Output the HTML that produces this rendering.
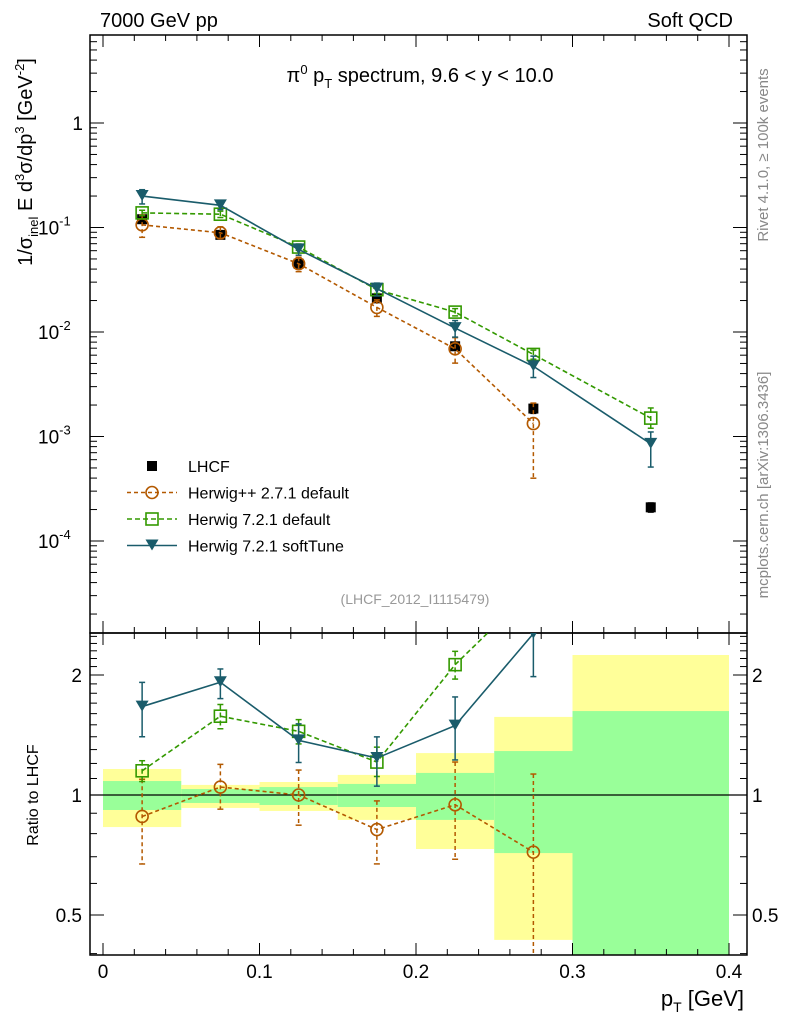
<!DOCTYPE html>
<html><head><meta charset="utf-8"><style>
body{margin:0;background:#fff}
svg{font-family:"Liberation Sans",sans-serif}
</style></head><body>
<svg id="c" width="786" height="1024" viewBox="0 0 786 1024" xmlns="http://www.w3.org/2000/svg">
<rect width="786" height="1024" fill="#fff"/>
<g id="bands"></g>
<g id="axes"></g>
<g id="marks"></g>
<text x="100" y="27" font-size="20">7000 GeV pp</text>
<text x="733" y="27" font-size="20" text-anchor="end">Soft QCD</text>
<text x="420" y="82" font-size="20" text-anchor="middle">π<tspan dy="-8" font-size="13">0</tspan><tspan dy="8"> p</tspan><tspan dy="6" font-size="13">T</tspan><tspan dy="-6"> spectrum, 9.6 &lt; y &lt; 10.0</tspan></text>
<text transform="translate(32,162) rotate(-90)" font-size="20" text-anchor="middle">1/σ<tspan dy="6" font-size="13">inel</tspan><tspan dy="-6"> E d</tspan><tspan dy="-8" font-size="13">3</tspan><tspan dy="8">σ/dp</tspan><tspan dy="-8" font-size="13">3</tspan><tspan dy="8"> [GeV</tspan><tspan dy="-8" font-size="13">-2</tspan><tspan dy="8">]</tspan></text>
<text transform="translate(768,155) rotate(-90)" font-size="15" fill="#888" text-anchor="middle">Rivet 4.1.0, ≥ 100k events</text>
<text transform="translate(768,485) rotate(-90)" font-size="15" fill="#888" text-anchor="middle">mcplots.cern.ch [arXiv:1306.3436]</text>
<text x="415" y="604" font-size="14" fill="#999" text-anchor="middle">(LHCF_2012_I1115479)</text>
<text transform="translate(38,795) rotate(-90)" font-size="16" text-anchor="middle">Ratio to LHCF</text>
<text x="744" y="1006" font-size="22" text-anchor="end">p<tspan dy="6" font-size="14">T</tspan><tspan dy="-6"> [GeV]</tspan></text>
<g id="legend"></g>
</svg>
<script>
const xEdges=[0,0.05,0.1,0.15,0.2,0.25,0.3,0.4];
const xCenters=[0.025,0.075,0.125,0.175,0.225,0.275,0.35];
const lhcf=[0.12,0.085,0.045,0.021,0.0073,0.00185,0.00021];
const lhcfRelErr=[0.06,0.04,0.05,0.06,0.08,0.1,0.1];
const herwigpp=[0.106,0.089,0.045,0.0172,0.0069,0.00133];
const herwigppUp=[1.24,1.14,1.155,1.18,1.28,1.57];
const herwigppDn=[0.76,0.88,0.84,0.82,0.73,0.3];
const h721=[0.138,0.134,0.065,0.0254,0.0155,0.0061,0.0015];
const h721Up=[1.06,1.07,1.07,1.09,1.08,1.1,1.25];
const h721Dn=[0.94,0.93,0.93,0.92,0.92,0.9,0.8];
const soft=[0.2,0.163,0.0617,0.026,0.0109,0.0047,0.00085];
const softUp=[1.15,1.08,1.10,1.13,1.18,1.25,1.3];
const softDn=[0.84,0.91,0.88,0.85,0.82,0.78,0.6];
const bandYellowHi=[1.162,1.06,1.078,1.123,1.274,1.57,2.245];
const bandYellowLo=[0.831,0.928,0.912,0.866,0.732,0.433,0.3];
const bandGreenHi=[1.084,1.035,1.047,1.066,1.136,1.289,1.624];
const bandGreenLo=[0.917,0.955,0.944,0.933,0.866,0.715,0.3];
const mainTicks=[1,0.1,0.01,0.001,0.0001];
const mainTickLabels=[["1",""],["10","-1"],["10","-2"],["10","-3"],["10","-4"]];
const xTicks=[0,0.1,0.2,0.3,0.4];
const xTickLabels=["0","0.1","0.2","0.3","0.4"];
const ratioTicks=[0.5,1,2];
const ratioTickLabels=["0.5","1","2"];

const NS="http://www.w3.org/2000/svg";
const L=90,R=747,T=35,M=633,B=955;
const X=v=>103+v*1565;
const Y=v=>123-104.5*Math.log10(v);
const RY=v=>795-398.6*Math.log10(v);
function mk(p,tag,at){const e=document.createElementNS(NS,tag);for(const k in at)e.setAttribute(k,at[k]);p.appendChild(e);return e;}
const axes=document.getElementById('axes'),marks=document.getElementById('marks'),bands=document.getElementById('bands'),leg=document.getElementById('legend');
const clipR=mk(document.getElementById('c'),'clipPath',{id:'cr'});mk(clipR,'rect',{x:L,y:M,width:R-L,height:B-M});
const clipM=mk(document.getElementById('c'),'clipPath',{id:'cm'});mk(clipM,'rect',{x:L,y:T,width:R-L,height:M-T});
bands.setAttribute('clip-path','url(#cr)');
for(let i=0;i<7;i++){
 let r=mk(bands,'rect',{x:X(xEdges[i]),width:X(xEdges[i+1])-X(xEdges[i]),y:RY(bandYellowHi[i]),height:RY(bandYellowLo[i])-RY(bandYellowHi[i]),fill:'#ffff99'});
 
 
 let g=mk(bands,'rect',{x:X(xEdges[i]),width:X(xEdges[i+1])-X(xEdges[i]),y:RY(bandGreenHi[i]),height:RY(bandGreenLo[i])-RY(bandGreenHi[i]),fill:'#99ff99'});
 
 
}
mk(axes,'rect',{x:L,y:T,width:R-L,height:M-T,fill:'none',stroke:'#000','stroke-width':1.5});
mk(axes,'rect',{x:L,y:M,width:R-L,height:B-M,fill:'none',stroke:'#000','stroke-width':1.5});
mk(axes,'line',{x1:L,x2:R,y1:RY(1),y2:RY(1),stroke:'#000','stroke-width':1.2});
for(let v=0;v<=0.4001;v+=0.02){const maj=Math.abs(v*10-Math.round(v*10))<1e-6;const len=maj?12:6;
 for(const [y0,d] of [[T,1],[M,-1],[M,1],[B,-1]]) mk(axes,'line',{x1:X(v),x2:X(v),y1:y0,y2:y0+d*len,stroke:'#000','stroke-width':1});}
xTicks.forEach((v,i)=>{const t=mk(axes,'text',{x:X(v),y:978,'font-size':19,'text-anchor':'middle'});t.textContent=xTickLabels[i];
 
 });
for(let e=-5;e<=1;e++)for(let m=1;m<=9;m++){const v=m*Math.pow(10,e);const y=Y(v);if(y<T||y>M)continue;const len=m==1?14:7;
 mk(axes,'line',{x1:L,x2:L+len,y1:y,y2:y,stroke:'#000'});mk(axes,'line',{x1:R,x2:R-len,y1:y,y2:y,stroke:'#000'});}
mainTicks.forEach((v,i)=>{const t=mk(axes,'text',{x:i==0?83:38,y:Y(v)+7,'font-size':19});
 if(i==0)t.setAttribute('text-anchor','end');
 t.textContent=mainTickLabels[i][0];
 if(mainTickLabels[i][1]){const s=mk(t,'tspan',{dy:-9,'font-size':13});s.textContent=mainTickLabels[i][1];}
 
 });
for(let v=0.4;v<2.6;v=Math.round((v+0.1)*10)/10){const y=RY(v);if(y<M||y>B)continue;const maj=(v==0.5||v==1||v==2);const len=maj?14:7;
 mk(axes,'line',{x1:L,x2:L+len,y1:y,y2:y,stroke:'#000'});mk(axes,'line',{x1:R,x2:R-len,y1:y,y2:y,stroke:'#000'});}
ratioTicks.forEach((v,i)=>{for(const [x,a] of [[82,'end'],[752,'start']]){const t=mk(axes,'text',{x:x,y:RY(v)+7,'font-size':19,'text-anchor':a});t.textContent=ratioTickLabels[i];
 
 }});
function marker(g,type,x,y,col){
 if(type=='circ')mk(g,'circle',{cx:x,cy:y,r:6,fill:'none',stroke:col,'stroke-width':1.6});
 else if(type=='sq')mk(g,'rect',{x:x-6,y:y-6,width:12,height:12,fill:'none',stroke:col,'stroke-width':1.6});
 else if(type=='tri')mk(g,'path',{d:`M${x-6.5},${y-6}L${x+6.5},${y-6}L${x},${y+5}Z`,fill:col});
 else mk(g,'rect',{x:x-5,y:y-5,width:10,height:10,fill:col});
}
function series(name,vals,up,dn,col,dash,type,ratio){
 const g=mk(marks,'g',{'clip-path':ratio?'url(#cr)':'url(#cm)'});
 
 
 const yf=ratio?RY:Y;
 const v=vals.map((a,i)=>ratio?a/lhcf[i]:a);
 if(dash!==null){let d='';v.forEach((a,i)=>{d+=(i?'L':'M')+X(xCenters[i])+','+yf(a);});
  mk(g,'path',{d:d,fill:'none',stroke:col,'stroke-width':1.6,'stroke-dasharray':dash});}
 v.forEach((a,i)=>{const x=X(xCenters[i]);
  if(ratio&&yf(a)<M)return;
  const y1=yf(a*up[i]),y2=yf(a*dn[i]);
  mk(g,'line',{x1:x,x2:x,y1:y1,y2:y2,stroke:col,'stroke-width':1.5,'stroke-dasharray':dash||'none'});
  mk(g,'line',{x1:x-3,x2:x+3,y1:y1,y2:y1,stroke:col,'stroke-width':1.5});
  mk(g,'line',{x1:x-3,x2:x+3,y1:y2,y2:y2,stroke:col,'stroke-width':1.5});
  marker(g,type,x,yf(a),col);});
}
const lUp=lhcfRelErr.map(e=>1+e),lDn=lhcfRelErr.map(e=>1-e);
series('lhcf',lhcf,lUp,lDn,'#000',null,'full',false);
series('herwigpp-2-7-1',herwigpp,herwigppUp,herwigppDn,'#b35900','4,3','circ',false);
series('herwig-7-2-1-default',h721,h721Up,h721Dn,'#339900','5,3','sq',false);
series('herwig-7-2-1-softtune',soft,softUp,softDn,'#1a5c6b','','tri',false);
series('herwigpp-2-7-1',herwigpp,herwigppUp,herwigppDn,'#b35900','4,3','circ',true);
series('herwig-7-2-1-default',h721,h721Up,h721Dn,'#339900','5,3','sq',true);
series('herwig-7-2-1-softtune',soft,softUp,softDn,'#1a5c6b','','tri',true);
const items=[['LHCF','#000',null,'full'],['Herwig++ 2.7.1 default','#b35900','4,3','circ'],['Herwig 7.2.1 default','#339900','5,3','sq'],['Herwig 7.2.1 softTune','#1a5c6b','','tri']];
items.forEach((it,i)=>{const y=466+i*26.5;const g=mk(leg,'g',{});
 
 
 if(it[2]!==null)mk(g,'line',{x1:127,x2:177,y1:y,y2:y,stroke:it[1],'stroke-width':1.6,'stroke-dasharray':it[2]});
 marker(g,it[3],152,y,it[1]);
 const t=mk(g,'text',{x:188,y:y+6,'font-size':16});t.textContent=it[0];});
</script>
</body></html>
